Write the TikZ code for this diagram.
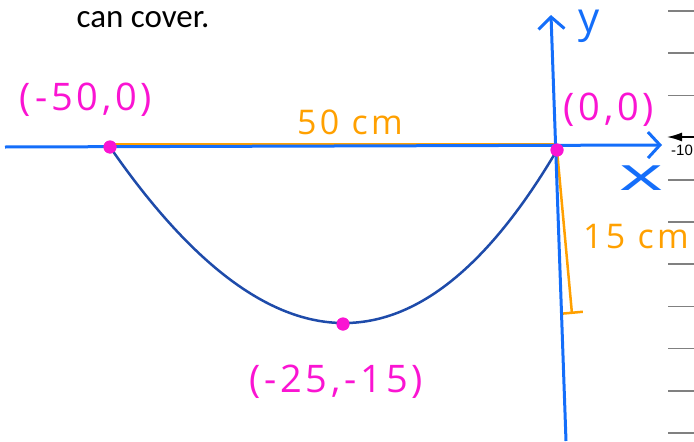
\documentclass[tikz,border=0pt]{standalone}
\usepackage{fontspec}
\setmainfont{Carlito}
\newfontfamily\hand[LetterSpace=10]{Open Sans}
\newfontfamily\arial{Liberation Sans}
\usetikzlibrary{arrows.meta}
\definecolor{axisblue}{RGB}{20,110,250}
\definecolor{curveblue}{RGB}{30,75,170}
\definecolor{measure}{RGB}{255,160,0}
\definecolor{pointpink}{RGB}{250,20,210}
\tikzset{
  axis/.style={draw=axisblue, line width=3pt, -{Straight Barb[length=12pt,width=26pt,line width=3pt]}},
  pt/.style={circle, fill=pointpink, inner sep=0pt, minimum size=13pt},
  ptlabel/.style={text=pointpink, font=\hand\fontsize{38}{38}\selectfont},
  dim/.style={draw=measure, line width=2.5pt},
  dimlabel/.style={text=measure, font=\hand\fontsize{34}{34}\selectfont},
  axislabel/.style={text=axisblue, font=\hand\fontsize{42}{42}\selectfont},
}
\begin{document}
\begin{tikzpicture}[x=1pt,y=1pt]
\useasboundingbox (0,0) rectangle (694,-442);

\node[font=\fontsize{33}{33}\selectfont] (cover) at (143,-20) {can cover.};

% ruled paper ticks on the right
\foreach \k in {0,1,2,4,5,6,7,8,9,10}
  \draw[gray, line width=1.5pt] (668,{-11-42.2*\k}) -- (694,{-11-42.2*\k});
\coordinate (tickR) at (700,-137);
\coordinate (tickL) at (667,-137);
\draw[line width=1.5pt, -{Latex[length=15pt,width=9pt]}] (tickR) -- (tickL);
\node[font=\arial\fontsize{15}{15}\selectfont, anchor=west, inner sep=0pt] (ten) at (671,-150) {-10};

% measurements
\coordinate (hstart) at (110,-144);
\coordinate (hend) at (555,-144);
\coordinate (vtop) at (557,-150);
\coordinate (vbot) at (572,-314);
\draw[dim] (hstart) -- (hend);
\draw[dim, -{Bar[width=22pt,line width=2.5pt]}] (vtop) -- (vbot);
\node[dimlabel] (horiz) at (350,-122) {50 cm};
\node[dimlabel] (vert) at (636,-237) {15 cm};

% axes
\coordinate (xstart) at (5,-147);
\coordinate (xend) at (662,-145);
\coordinate (ystart) at (566,-441);
\coordinate (yend) at (551,-15);
\draw[axis] (xstart) -- (xend);
\draw[axis] (ystart) -- (yend);
\node[axislabel] (xlab) at (641,-178) {\scalebox{2}[1.1]{x}};
\node[axislabel] (ylab) at (589,-26) {y};

% parabola and points
\node[pt] (left) at (110,-147) {};
\node[pt] (vertex) at (343,-324) {};
\node[pt] (origin) at (557,-150) {};
\draw[curveblue, line width=2.5pt] (left.center) .. controls (271.7,-380.7) and (420.7,-381.7) .. (origin.center);
\node[pt] at (left) {};
\node[pt] at (vertex) {};
\node[pt] at (origin) {};
\node[ptlabel] (leftlab) at (86,-100) {(-50,0)};
\node[ptlabel] (originlab) at (609,-110) {(0,0)};
\node[ptlabel] (vertexlab) at (336,-382) {(-25,-15)};
\end{tikzpicture}
\end{document}
